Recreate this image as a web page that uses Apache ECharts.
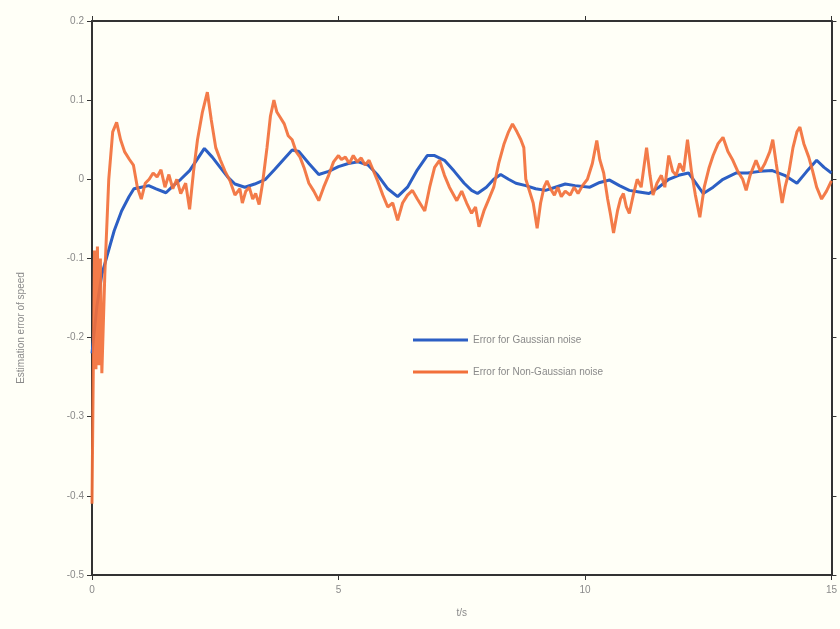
<!DOCTYPE html>
<html>
<head>
<meta charset="utf-8">
<script src="https://cdn.jsdelivr.net/npm/echarts@6/dist/echarts.min.js"></script>
<style>
  html, body { margin: 0; padding: 0; background: #fffff7; }
  #chart { width: 840px; height: 629px; }
</style>
</head>
<body>
<div id="chart"></div>
<script>
// values (t in s, error)
var tGauss = [0, 0.1, 0.2, 0.3, 0.45, 0.6, 0.75, 0.85, 1.0, 1.15, 1.3, 1.5, 1.65, 1.8, 1.98, 2.1, 2.28, 2.44, 2.6, 2.75,
  2.9, 3.1, 3.3, 3.52, 3.7, 3.9, 4.06, 4.2, 4.4, 4.6, 4.8, 5.0, 5.2, 5.4, 5.6, 5.8, 6.0, 6.2, 6.4, 6.6,
  6.8, 6.95, 7.15, 7.35, 7.55, 7.7, 7.82, 8.0, 8.15, 8.29, 8.45, 8.6, 8.8, 9.0, 9.2, 9.4, 9.6, 9.8, 10.1, 10.3,
  10.5, 10.7, 10.9, 11.1, 11.3, 11.5, 11.7, 11.9, 12.1, 12.25, 12.4, 12.6, 12.8, 13.07, 13.3, 13.55, 13.8, 14.05, 14.3, 14.5,
  14.7, 14.85, 15];
var errGauss = [-0.22, -0.16, -0.12, -0.098, -0.065, -0.04, -0.022, -0.012, -0.01, -0.008, -0.012, -0.017, -0.008, 0.0, 0.011, 0.022, 0.039, 0.028, 0.015, 0.003,
  -0.006, -0.01, -0.006, 0.0, 0.012, 0.026, 0.037, 0.035, 0.02, 0.006, 0.01, 0.016, 0.02, 0.022, 0.018, 0.005, -0.012, -0.022, -0.01, 0.012,
  0.03, 0.03, 0.024, 0.01, -0.005, -0.014, -0.018, -0.01, 0.0, 0.006, 0.0, -0.005, -0.008, -0.012, -0.014, -0.01, -0.006, -0.008, -0.01, -0.004,
  -0.001, -0.008, -0.014, -0.016, -0.018, -0.01, 0.0, 0.005, 0.008, -0.005, -0.018, -0.01, 0.0, 0.008, 0.008, 0.01, 0.011, 0.005, -0.005, 0.01,
  0.024, 0.015, 0.008];

var tNonGauss = [0, 0.02, 0.05, 0.08, 0.11, 0.14, 0.17, 0.2, 0.26, 0.34, 0.42, 0.5, 0.58, 0.66, 0.76, 0.84, 0.92, 1.0, 1.08, 1.16, 1.24, 1.32, 1.4,
  1.48, 1.56, 1.64, 1.72, 1.8, 1.9, 1.98, 2.06, 2.14, 2.24, 2.34, 2.42, 2.51, 2.6, 2.7, 2.8, 2.9, 3.0, 3.05, 3.12,
  3.19, 3.26, 3.32, 3.39, 3.46, 3.55, 3.62, 3.69, 3.75, 3.82, 3.9, 3.98, 4.06, 4.14, 4.22, 4.3, 4.4, 4.5, 4.6, 4.7,
  4.8, 4.9, 5.0, 5.06, 5.14, 5.22, 5.3, 5.38, 5.46, 5.54, 5.62, 5.7, 5.8, 5.9, 6.0, 6.1, 6.2, 6.3, 6.4, 6.5,
  6.6, 6.75, 6.85, 6.95, 7.05, 7.15, 7.25, 7.4, 7.5, 7.6, 7.7, 7.78, 7.85, 7.95, 8.05, 8.15, 8.25, 8.36, 8.45, 8.53,
  8.62, 8.7, 8.76, 8.8, 8.86, 8.95, 9.03, 9.1, 9.17, 9.23, 9.3, 9.38, 9.45, 9.52, 9.6, 9.7, 9.78, 9.86, 9.95, 10.05,
  10.15, 10.24, 10.3, 10.38, 10.46, 10.52, 10.58, 10.66, 10.72, 10.78, 10.84, 10.9, 10.98, 11.06, 11.14, 11.25, 11.32, 11.38, 11.46, 11.55,
  11.62, 11.7, 11.78, 11.85, 11.92, 12.0, 12.08, 12.16, 12.24, 12.33, 12.42, 12.52, 12.6, 12.7, 12.8, 12.9, 13.0, 13.1, 13.2, 13.27,
  13.35, 13.47, 13.56, 13.65, 13.75, 13.81, 13.88, 13.94, 14.0, 14.06, 14.14, 14.22, 14.3, 14.36, 14.44, 14.54, 14.62, 14.7, 14.8, 14.9,
  15.0];
var errNonGauss = [-0.41, -0.28, -0.09, -0.24, -0.085, -0.235, -0.1, -0.245, -0.12, 0.0, 0.06, 0.072, 0.05, 0.035, 0.025, 0.018, -0.01, -0.025, -0.005, 0.0, 0.008, 0.003, 0.012,
  -0.01, 0.006, -0.012, 0.0, -0.018, -0.005, -0.038, 0.01, 0.05, 0.085, 0.11, 0.075, 0.04, 0.025, 0.01, -0.002, -0.02, -0.012, -0.03, -0.015,
  -0.01, -0.025, -0.018, -0.032, -0.005, 0.04, 0.08, 0.1, 0.085, 0.078, 0.07, 0.055, 0.05, 0.035, 0.028, 0.015, -0.005, -0.015, -0.027, -0.01,
  0.005, 0.022, 0.03, 0.025, 0.028, 0.02, 0.03, 0.022, 0.027, 0.018, 0.024, 0.012, -0.003, -0.02, -0.035, -0.03, -0.052, -0.03, -0.02, -0.014,
  -0.025, -0.04, -0.01, 0.015, 0.024, 0.005, -0.01, -0.027, -0.015, -0.03, -0.043, -0.035, -0.06, -0.04, -0.025, -0.01, 0.02, 0.045, 0.06, 0.07,
  0.06, 0.05, 0.04, 0.0, -0.012, -0.03, -0.062, -0.03, -0.01, -0.002, -0.012, -0.02, -0.01, -0.022, -0.015, -0.02, -0.01, -0.018, -0.008, 0.0,
  0.02, 0.049, 0.025, 0.008, -0.025, -0.045, -0.068, -0.04, -0.025, -0.018, -0.035, -0.043, -0.02, 0.0, -0.01, 0.04, 0.005, -0.02, -0.005, 0.005,
  -0.01, 0.03, 0.01, 0.005, 0.02, 0.01, 0.05, 0.01, -0.02, -0.048, -0.01, 0.015, 0.03, 0.045, 0.053, 0.035, 0.024, 0.01, 0.0, -0.014,
  0.005, 0.024, 0.01, 0.02, 0.035, 0.05, 0.02, -0.005, -0.03, -0.01, 0.01, 0.04, 0.06, 0.066, 0.045, 0.028, 0.01, -0.01, -0.025, -0.015,
  -0.002];

var seriesNames = ['Error for Gaussian noise', 'Error for Non-Gaussian noise'];

function pairs(t, v) {
  var out = [];
  for (var i = 0; i < t.length; i++) out.push([t[i], v[i]]);
  return out;
}

var chart = echarts.init(document.getElementById('chart'));

var axisLine = { show: true, onZero: false, lineStyle: { color: '#333', width: 2 } };
var tickOut = { show: true, inside: false, length: 5, lineStyle: { color: '#333', width: 1 } };
var labelStyle = { color: '#8a8a8a', fontSize: 10, fontFamily: 'Liberation Sans' };

chart.setOption({
  backgroundColor: '#fffff7',
  animation: false,
  grid: { left: 92, right: 4, top: 21, bottom: 54 },
  legend: {
    left: 408, top: 330, orient: 'vertical',
    itemWidth: 55, itemHeight: 3, itemGap: 22, icon: 'rect',
    textStyle: { color: '#8a8a8a', fontSize: 10, fontFamily: 'Liberation Sans' },
    data: seriesNames
  },
  xAxis: [
    {
      type: 'value', min: 0, max: 15, interval: 5, position: 'bottom',
      name: 't/s', nameLocation: 'middle', nameGap: 33, nameTextStyle: labelStyle,
      axisLine: axisLine, axisTick: tickOut, axisLabel: Object.assign({ margin: 10 }, labelStyle),
      splitLine: { show: false }
    },
    {
      type: 'value', min: 0, max: 15, interval: 5, position: 'top',
      axisLine: axisLine, axisTick: tickOut, axisLabel: { show: false }, splitLine: { show: false }
    }
  ],
  yAxis: [
    {
      type: 'value', min: -0.5, max: 0.2, interval: 0.1, position: 'left',
      name: 'Estimation error of speed', nameLocation: 'middle', nameGap: 66,
      nameTextStyle: Object.assign({ padding: [0, 60, 0, 0] }, labelStyle),
      axisLine: axisLine, axisTick: tickOut,
      axisLabel: Object.assign({
        margin: 8,
        formatter: function (v) { return Math.abs(v) < 1e-9 ? '0' : v.toFixed(1); }
      }, labelStyle),
      splitLine: { show: false }
    },
    {
      type: 'value', min: -0.5, max: 0.2, interval: 0.1, position: 'right',
      axisLine: axisLine, axisTick: tickOut, axisLabel: { show: false }, splitLine: { show: false }
    }
  ],
  series: [
    {
      name: seriesNames[0], type: 'line', showSymbol: false,
      data: pairs(tGauss, errGauss),
      lineStyle: { color: '#2c5fc4', width: 3 }, itemStyle: { color: '#2c5fc4' }
    },
    {
      name: seriesNames[1], type: 'line', showSymbol: false,
      data: pairs(tNonGauss, errNonGauss),
      lineStyle: { color: '#f2703a', width: 3, opacity: 0.92 }, itemStyle: { color: '#f2703a' }
    }
  ]
});
</script>
</body>
</html>
